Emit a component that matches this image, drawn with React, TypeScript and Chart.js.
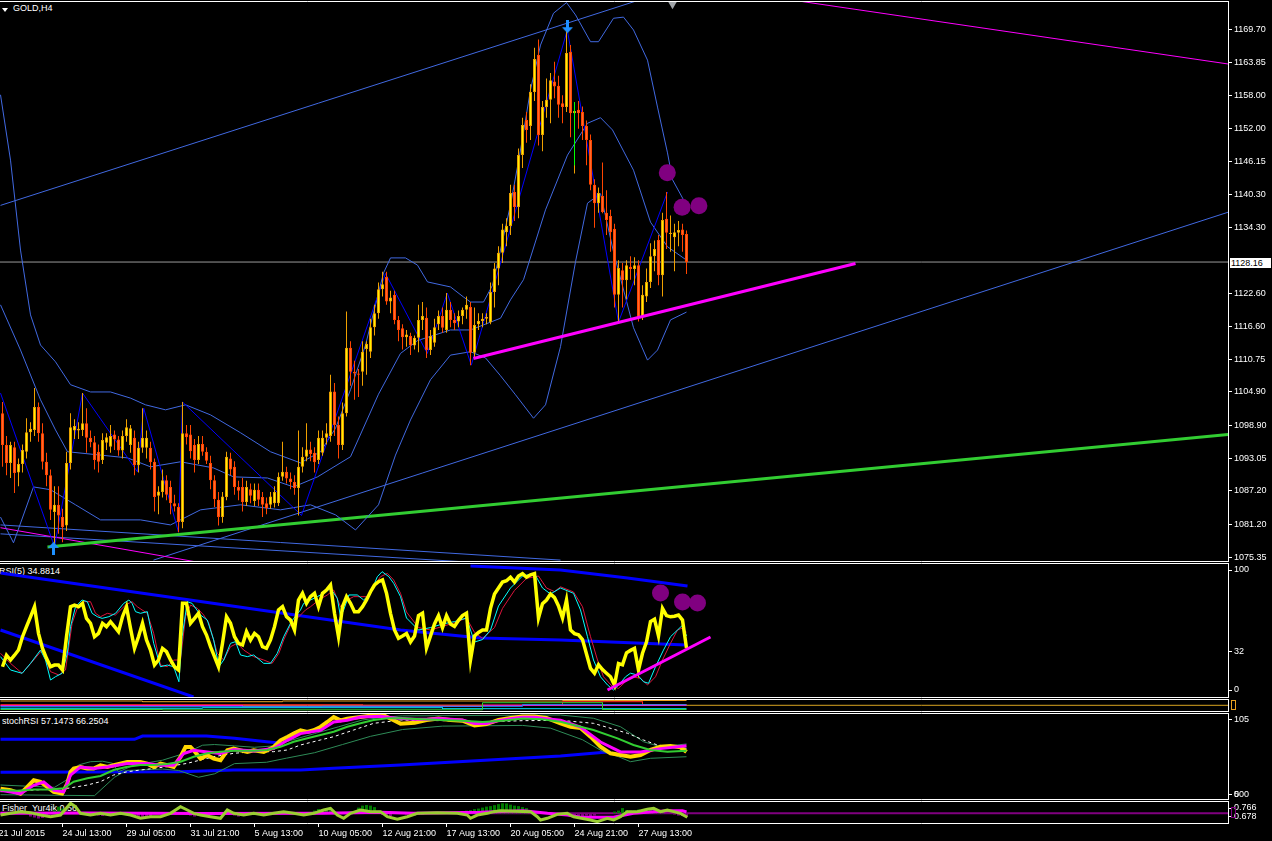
import React, { useEffect, useRef } from "react";
import { Chart, registerables } from "chart.js";
Chart.register(...registerables);

// ---------------- DATA ----------------
const OPEN = [
  1101.1, 1095.4, 1092.2, 1095.0, 1090.5, 1092.0, 1094.2, 1097.7, 1098.1, 1102.2,
  1097.5, 1092.4, 1090.0, 1083.4, 1084.7, 1082.5, 1081.0, 1092.2, 1098.0, 1098.0,
  1098.1, 1099.3, 1096.7, 1095.9, 1094.2, 1092.7, 1095.8, 1095.1, 1097.3, 1096.4,
  1094.4, 1097.0, 1095.4, 1096.7, 1091.8, 1094.9, 1094.9, 1094.9, 1092.4, 1086.3,
  1087.0, 1089.1, 1087.9, 1085.0, 1084.3, 1081.6, 1097.5, 1097.3, 1095.4, 1092.7,
  1095.6, 1094.2, 1092.2, 1089.1, 1085.6, 1082.5, 1086.1, 1093.0, 1091.5, 1087.9,
  1087.9, 1085.2, 1087.5, 1085.4, 1087.4, 1086.1, 1085.0, 1084.7, 1085.0, 1085.0,
  1089.7, 1090.6, 1089.4, 1088.8, 1087.7, 1091.5, 1093.3, 1094.6, 1094.0, 1092.7,
  1094.0, 1096.7, 1097.0, 1105.0, 1099.0, 1095.4, 1101.1, 1112.8, 1108.5, 1108.2,
  1108.5, 1112.6, 1112.1, 1116.5, 1119.0, 1123.3, 1125.5, 1121.1, 1122.3, 1117.8,
  1116.3, 1114.7, 1114.9, 1113.2, 1114.6, 1117.8, 1118.2, 1112.4, 1113.7, 1117.0,
  1118.5, 1116.0, 1119.6, 1117.8, 1117.5, 1118.5, 1119.6, 1120.1, 1111.9, 1117.0,
  1117.6, 1118.0, 1117.4, 1122.8, 1127.0, 1129.8, 1133.5, 1134.6, 1140.7, 1138.0,
  1147.3, 1153.6, 1152.5, 1158.6, 1165.2, 1150.9, 1155.9, 1157.2, 1160.5, 1159.7,
  1156.6, 1155.9, 1165.8, 1154.8, 1155.4, 1155.0, 1152.5, 1150.0, 1142.0, 1138.7,
  1140.0, 1137.0, 1136.4, 1134.1, 1122.3, 1126.7, 1124.9, 1127.3, 1126.9, 1127.6,
  1118.3, 1122.0, 1124.6, 1129.2, 1132.1, 1125.8, 1135.9, 1133.2, 1132.6, 1133.4,
  1134.0, 1133.2,
];
const HIGH = [
  1103.1, 1097.0, 1096.0, 1096.0, 1093.0, 1095.5, 1100.2, 1099.5, 1105.6, 1103.0,
  1099.3, 1094.0, 1091.0, 1088.0, 1088.0, 1084.0, 1094.2, 1101.1, 1100.0, 1099.5,
  1104.7, 1102.0, 1098.0, 1097.0, 1095.5, 1097.5, 1097.5, 1099.0, 1098.0, 1097.0,
  1098.0, 1100.0, 1099.0, 1098.0, 1096.0, 1102.0, 1098.0, 1096.0, 1093.0, 1088.0,
  1091.0, 1090.0, 1089.0, 1086.5, 1085.0, 1103.1, 1099.0, 1099.0, 1096.5, 1097.0,
  1097.0, 1095.0, 1093.5, 1090.0, 1087.0, 1087.0, 1094.2, 1094.0, 1092.5, 1089.0,
  1089.5, 1089.0, 1088.5, 1088.5, 1088.5, 1087.0, 1086.0, 1087.0, 1088.0, 1090.5,
  1096.0, 1091.5, 1090.5, 1090.0, 1098.0, 1095.0, 1099.3, 1096.0, 1095.0, 1098.0,
  1098.0, 1099.3, 1108.0, 1106.5, 1100.5, 1103.0, 1119.3, 1114.0, 1110.5, 1109.0,
  1114.0, 1114.0, 1118.0, 1120.5, 1124.5, 1126.4, 1126.4, 1123.0, 1123.0, 1118.5,
  1117.0, 1116.0, 1115.5, 1115.0, 1120.5, 1121.0, 1120.0, 1116.0, 1118.0, 1119.5,
  1120.0, 1122.6, 1121.0, 1119.0, 1119.5, 1120.0, 1122.0, 1121.0, 1120.0, 1119.0,
  1119.0, 1119.0, 1124.5, 1128.0, 1131.0, 1135.0, 1136.0, 1142.0, 1142.0, 1148.5,
  1154.0, 1155.0, 1160.0, 1166.5, 1168.0, 1157.0, 1161.0, 1162.0, 1164.0, 1161.5,
  1158.0, 1169.7, 1167.0, 1155.5, 1157.0, 1156.0, 1153.5, 1151.0, 1143.0, 1141.5,
  1146.0, 1141.0, 1137.5, 1135.0, 1128.5, 1128.0, 1128.5, 1129.2, 1129.0, 1128.5,
  1124.0, 1127.0, 1131.5, 1132.0, 1133.0, 1137.0, 1140.7, 1136.5, 1135.0, 1135.5,
  1135.0, 1133.8,
];
const LOW = [
  1091.5, 1090.0, 1089.5, 1086.8, 1088.0, 1090.5, 1093.0, 1096.0, 1097.0, 1096.0,
  1091.0, 1088.0, 1082.0, 1077.2, 1079.5, 1078.0, 1080.0, 1091.0, 1096.5, 1096.5,
  1097.0, 1094.0, 1095.0, 1091.0, 1090.5, 1092.0, 1094.5, 1094.0, 1094.5, 1093.5,
  1093.0, 1096.0, 1094.0, 1090.0, 1090.5, 1094.0, 1093.0, 1091.0, 1083.5, 1083.0,
  1086.0, 1085.5, 1083.0, 1083.5, 1079.8, 1080.5, 1095.5, 1093.0, 1090.5, 1092.0,
  1093.5, 1092.0, 1087.5, 1084.3, 1081.0, 1081.5, 1085.5, 1090.0, 1086.5, 1085.5,
  1083.5, 1084.5, 1085.0, 1084.5, 1084.5, 1082.5, 1083.0, 1084.0, 1084.2, 1084.5,
  1089.0, 1088.5, 1087.5, 1086.5, 1082.8, 1090.5, 1092.5, 1092.5, 1090.5, 1092.0,
  1093.5, 1095.5, 1096.0, 1097.0, 1093.0, 1094.5, 1100.5, 1106.0, 1103.5, 1104.0,
  1106.0, 1108.0, 1111.0, 1115.0, 1118.0, 1122.0, 1120.5, 1119.0, 1117.0, 1114.0,
  1112.5, 1113.0, 1111.5, 1112.5, 1112.0, 1116.0, 1111.0, 1111.5, 1113.0, 1116.0,
  1115.5, 1115.5, 1116.5, 1116.0, 1116.5, 1117.0, 1118.0, 1109.7, 1111.0, 1116.0,
  1116.5, 1117.0, 1117.0, 1120.0, 1124.0, 1128.0, 1131.0, 1133.0, 1135.5, 1136.0,
  1145.0, 1149.5, 1150.0, 1157.0, 1149.0, 1148.0, 1154.0, 1153.0, 1157.5, 1154.0,
  1153.0, 1155.0, 1150.5, 1144.0, 1152.0, 1150.0, 1145.5, 1141.0, 1134.3, 1137.0,
  1136.9, 1133.0, 1130.0, 1120.0, 1117.4, 1120.0, 1121.5, 1125.0, 1124.0, 1117.5,
  1117.8, 1121.0, 1123.5, 1126.5, 1124.0, 1122.0, 1130.5, 1130.0, 1126.5, 1131.0,
  1130.0, 1126.0,
];
const CLOSE = [
  1095.4, 1092.2, 1095.4, 1090.4, 1092.0, 1094.5, 1097.7, 1098.3, 1102.2, 1097.5,
  1092.4, 1090.0, 1083.8, 1084.7, 1082.8, 1080.7, 1092.2, 1098.6, 1098.8, 1098.3,
  1099.3, 1096.7, 1095.9, 1092.7, 1092.4, 1096.3, 1096.8, 1097.0, 1096.4, 1094.4,
  1097.0, 1098.6, 1098.4, 1091.8, 1094.9, 1096.7, 1096.7, 1092.3, 1086.1, 1087.1,
  1089.1, 1086.5, 1085.0, 1084.4, 1081.6, 1097.5, 1096.8, 1094.3, 1092.7, 1095.6,
  1094.2, 1092.6, 1089.1, 1085.7, 1082.5, 1086.2, 1093.3, 1091.0, 1087.9, 1087.2,
  1085.2, 1087.9, 1086.3, 1087.4, 1085.6, 1084.7, 1084.1, 1086.2, 1087.0, 1089.7,
  1090.6, 1089.4, 1088.8, 1087.7, 1091.5, 1093.3, 1094.6, 1093.8, 1092.3, 1096.7,
  1096.7, 1097.5, 1105.0, 1099.0, 1095.4, 1101.1, 1112.8, 1108.5, 1108.2, 1108.0,
  1112.1, 1113.5, 1116.5, 1119.0, 1123.3, 1124.2, 1121.1, 1121.8, 1117.8, 1116.0,
  1114.7, 1115.2, 1113.2, 1114.6, 1117.8, 1118.5, 1112.4, 1114.9, 1116.5, 1118.5,
  1116.4, 1119.6, 1117.8, 1117.2, 1118.5, 1119.6, 1120.5, 1111.9, 1116.9, 1117.6,
  1118.0, 1118.3, 1122.8, 1127.0, 1129.8, 1134.0, 1134.6, 1140.5, 1138.0, 1147.3,
  1152.7, 1151.8, 1158.6, 1164.5, 1150.9, 1155.9, 1157.2, 1160.7, 1159.6, 1156.3,
  1155.9, 1165.6, 1154.8, 1155.2, 1154.8, 1152.5, 1150.0, 1142.0, 1138.7, 1140.5,
  1137.1, 1135.7, 1133.5, 1122.3, 1127.1, 1124.9, 1127.6, 1126.9, 1127.6, 1118.3,
  1122.3, 1124.6, 1129.2, 1130.5, 1125.8, 1135.7, 1133.4, 1133.4, 1133.5, 1133.9,
  1133.0, 1128.16,
];

// Bollinger bands: [bar, price]
const BB_UPPER = [
  [-0.5, 1158.1], [2, 1146.4], [4.5, 1130.3], [7, 1118.7], [9.5, 1113.3], [13.25, 1110.3],
  [17, 1106.2], [22, 1104.9], [27, 1104.9], [32, 1103.8], [35.75, 1102.6], [40.75, 1101.7],
  [45.75, 1102.6], [52, 1100.8], [59.5, 1097.6], [67, 1094.2], [74.5, 1092.2], [79.5, 1094.2],
  [83.25, 1098.4], [87, 1105.3], [90.75, 1113.3], [93.25, 1120.5], [95.25, 1126.2], [97, 1128.9],
  [100.75, 1128.9], [103.75, 1127.6], [106.25, 1124.6], [112, 1123.7], [115.25, 1121.9],
  [117, 1121.0], [120.25, 1121.0], [122.5, 1124.0], [124.5, 1130.3], [127, 1138.4],
  [129.5, 1148.2], [132, 1159.0], [134.5, 1167.0], [137.75, 1172.7], [141, 1174.6],
  [143.25, 1172.4], [147, 1167.6], [149, 1167.6], [152.75, 1171.8], [155.25, 1172.0],
  [157.75, 1169.7], [161.25, 1164.3], [163.75, 1155.9], [166.25, 1147.7], [167.5, 1142.9],
  [170.25, 1139.3], [171, 1138.0],
];
const BB_MIDDLE = [
  [-0.5, 1120.5], [4.5, 1112.4], [9.5, 1103.5], [13.25, 1098.1], [16.25, 1094.2], [24.5, 1093.6],
  [31.25, 1093.1], [37, 1091.5], [44.5, 1092.4], [52.75, 1091.3], [57.75, 1089.7], [66.25, 1089.5],
  [72.75, 1087.9], [78.75, 1089.7], [87, 1093.3], [94, 1104.5], [99.5, 1111.8], [103.75, 1114.1],
  [112, 1116.0], [117, 1116.0], [124.5, 1118.1], [127, 1121.4], [130.25, 1125.0], [135.75, 1137.5],
  [141.25, 1147.3], [146.25, 1153.0], [149.5, 1154.0], [152.5, 1151.8], [157.75, 1144.6],
  [162, 1135.3], [166.25, 1130.9], [171, 1128.5],
];
const BB_LOWER = [
  [-0.5, 1082.5], [2.75, 1077.9], [7.75, 1087.9], [12, 1087.4], [18.25, 1084.7], [24.5, 1082.0],
  [34.5, 1082.0], [42, 1081.1], [49.5, 1083.8], [59.5, 1084.7], [69.5, 1083.8], [77, 1084.7],
  [83.25, 1082.9], [88.25, 1080.2], [94, 1084.7], [98.25, 1093.6], [102, 1099.9], [107, 1107.1],
  [112, 1111.5], [117, 1112.1], [120.75, 1111.0], [124.5, 1107.8], [128.25, 1104.4],
  [132.75, 1100.2], [135.75, 1102.6], [139.5, 1113.0], [143.25, 1128.2], [146.25, 1138.7],
  [149.5, 1140.4], [152.75, 1130.0], [157.75, 1116.4], [161.25, 1110.6], [163.75, 1112.4],
  [167, 1117.8], [171, 1119.2],
];
const ZIGZAG = [
  [-0.5, 1104.7], [13, 1077.2], [20, 1104.7], [33.75, 1090.6], [35.3, 1102.0], [44, 1079.8],
  [45, 1103.1], [74.75, 1082.8], [95.75, 1126.1], [106.2, 1111.8], [111.2, 1122.6],
  [117.2, 1109.7], [141.2, 1169.7], [154, 1117.4], [166.25, 1140.7],
];
const CHANNEL_TOP = [[-0.5, 1138.3], [161.5, 1175.6]];
const CHANNEL_LOW = [[37.75, 1074.8], [306.5, 1137.1]];
const BLUE_LOW_A = [[-0.5, 1081.1], [139.5, 1074.8]];
const BLUE_LOW_B = [[-0.5, 1079.5], [124.5, 1074.1]];
const MAGENTA_LOW = [[-0.5, 1080.6], [48.25, 1074.5]];
const MAGENTA_TOP = [[197, 1175.1], [306.5, 1163.6]];
const MAGENTA_SUPPORT = [[117.75, 1110.9], [213.25, 1127.9]];
const GREEN_LINE = [[11.25, 1077.15], [306.5, 1097.3]];
const LAST_PRICE = 1128.16;
const GREEN_MARK = [[143, 1156.8], [143, 1145.5]];
const MAIN_CIRCLES = [[166.2, 1144.15], [169.9, 1137.95], [174.1, 1138.25]];
const DOWN_ARROW = [[141.25, 1170.2]];
const UP_ARROW = [[12.75, 1077.0]];
const GRAY_MARK = [[167.5, 1174.3]];

// RSI(5)
const RSI = [
  19.4, 29, 25, 29, 33.3, 44.4, 52.8, 61, 69.4, 47.2,
  34.7, 26.4, 19.4, 20.8, 20.8, 16.7, 44.4, 69.4, 70.8, 69.4,
  72.2, 59.7, 55.6, 44.4, 47.2, 55.6, 52.8, 56.9, 52.8, 48.6,
  61.1, 69.4, 51.4, 34.7, 44.4, 55.6, 41.7, 33.3, 20.8, 25,
  34.7, 31.9, 25, 19.4, 16.7, 72.2, 72.2, 55.6, 59.7, 63.9,
  52.8, 45.8, 36.1, 27.8, 19.4, 38.9, 61.1, 55.6, 44.4, 38.9,
  37.5, 48.6, 41.7, 47.2, 44.4, 36.1, 34.7, 41.7, 52.8, 66.7,
  69.4, 61.1, 58.3, 50, 75, 80.6, 72.2, 77.8, 80.6, 69.4,
  80.6, 83.3, 87.5, 63.9, 44.4, 69.4, 77.8, 72.2, 65.3, 65.3,
  69.4, 75, 81.9, 87.5, 90.3, 91.7, 80.6, 63.9, 50, 43.1,
  45, 47, 40, 45, 62, 64, 35, 45, 55, 62,
  52, 62, 55, 53, 58, 62, 64, 25, 45, 48,
  50, 50, 68, 80, 85, 90, 91, 94, 90, 95,
  97, 94, 96, 97, 60, 72, 75, 80, 77, 70,
  60, 75, 50, 47, 46, 42, 30, 18, 14, 21,
  17, 14, 11, 4, 22, 21, 31, 33, 34.7, 16.7,
  30.6, 40, 57, 59, 45, 68, 62, 61, 61.5, 62.5,
  58.3, 34.9,
];
const RSI_CYAN = [
  [-0.5, 27.8], [2, 16.7], [4.9, 13.9], [7, 22.2], [9.5, 33.3], [10.75, 25], [12, 8.3], [13.25, 11.1],
  [14.9, 13.9], [16.2, 30.6], [17, 52.8], [18.25, 69.4], [19.9, 75], [21.2, 73.6], [22.4, 63.9],
  [23.7, 61.1], [24.9, 59.7], [26.6, 61.1], [28.25, 63.9], [30.3, 72.2], [31.6, 75], [32.4, 72.2],
  [33.25, 65.3], [34.5, 63.9], [36.2, 65.3], [37.8, 38.9], [39.5, 19.4], [41.2, 20.8], [42.8, 19.4],
  [44.1, 6.9], [44.9, 44.4], [46.2, 73.6], [47.4, 72.2], [49.5, 62.5], [51.2, 58.3], [52.8, 41.7],
  [54.1, 19.4], [55.3, 25], [57, 38.9], [58.25, 40.3], [59.5, 29.2], [61.2, 27.8], [62.8, 29.2],
  [65.3, 22.2], [67, 22.2], [68.7, 30.6], [70.3, 44.4], [72, 55.6], [72.8, 59.7], [74.5, 66.7],
  [75.3, 72.2], [77, 75], [78.7, 77.8], [80.3, 80.6], [82, 84.7], [83.7, 76.4], [84.5, 61.1],
  [85.3, 66.7], [86.6, 79.2], [88.7, 79.2], [90.3, 75], [92, 80.6], [93.7, 94.4], [94.9, 98.6],
  [96.6, 94.4], [97.8, 88.9], [99.5, 77.8], [101, 60], [104, 50], [107, 52], [110, 55], [113, 57],
  [116, 60], [118, 40], [120, 42], [122, 50], [124, 70], [127, 85], [130, 95], [133, 97], [135, 85],
  [137, 80], [139.5, 85], [142.75, 80.6], [144.5, 66.7], [146.25, 44.4], [147.75, 25], [149.5, 11],
  [151.25, 4.2], [152.75, 0], [154, 4], [155.75, 11], [157, 14], [158.75, 12.5], [160.25, 6.9],
  [161.5, 5.6], [163.25, 19.4], [165.25, 33.3], [167, 44.4], [168.75, 50], [170, 54], [171, 45],
];
const RSI_RED = [
  [-0.5, 30.6], [2, 22.2], [4.9, 13.9], [7.8, 25], [9.9, 33.3], [12, 15.3], [14.1, 12.5], [15.75, 16.7],
  [17.4, 55.6], [18.7, 68.1], [20.3, 73.6], [22, 73.6], [23.25, 63.9], [24.5, 61.1], [26.2, 63.9],
  [28.25, 62.5], [30.75, 70.8], [32.4, 73.6], [33.7, 69.4], [34.9, 66.7], [36.2, 63.9], [37.8, 47.2],
  [39.5, 20.8], [41.2, 19.4], [42.8, 25], [44.5, 25], [45.75, 61.1], [47, 70.8], [48.7, 68.1],
  [50.3, 62.5], [51.6, 55.6], [53.7, 30.6], [55.3, 25], [57, 36.1], [58.7, 38.9], [60.3, 33.3],
  [62.8, 27.8], [65.3, 25], [67.4, 22.2], [69.1, 30.6], [70.3, 41.7], [72, 54.2], [74.1, 61.1],
  [75.75, 66.7], [77, 69.4], [79.1, 75], [81.2, 79.2], [82.8, 83.3], [84.5, 69.4], [86.2, 75],
  [87.8, 77.8], [89.5, 77.8], [91.2, 77.8], [92.8, 86.1], [94.5, 94.4], [96.2, 97.2], [97.8, 91.7],
  [99.5, 80.6], [101, 65], [104, 52], [107, 50], [110, 53], [113, 56], [116, 60], [118, 48], [120, 43],
  [123, 52], [125, 68], [128, 83], [131, 93], [134, 95], [136, 85], [138, 82], [139.5, 86],
  [142.75, 81.7], [145, 69.4], [147, 44.4], [148.75, 25], [150.25, 11], [152.5, 2.8], [154, 1.4],
  [155.75, 6.9], [157.5, 11], [159.5, 9.7], [161.25, 4.2], [163.25, 11], [165, 25], [167, 38.9],
  [168.75, 50], [170, 51.7], [171, 48],
];
const RSI_BLUE_A = [[-0.5, 97.5], [99.5, 50], [119.5, 43.3], [139.5, 41.7], [171, 37.5]];
const RSI_BLUE_B = [[-0.5, 50], [47.75, -5.8]];
const RSI_BLUE_C = [[117, 103.3], [139.5, 100], [156.25, 93.3], [171.25, 86.7]];
const RSI_MAGENTA = [[151.25, 0], [177, 44.2]];
const RSI_CIRCLES = [[164.5, 80.8], [170, 73.3], [173.75, 72.5]];

// thin multi-line panel
const THIN_GOLD = [[-0.5, 10], [35, 10], [35, 9.3], [70, 9.3], [70, 10], [140, 10], [140, 10.5], [171, 10.5]];
const THIN_ORANGE = [[-0.5, 5.7], [306.5, 5.7]];
const THIN_MAGENTA = [[-0.5, 5.3], [60, 5.3], [60, 4.7], [120, 4.7], [120, 5.7], [171, 5.7]];
const THIN_RED = [[-0.5, 6.3], [90, 6.3], [90, 5.8], [140, 5.8], [140, 9.3], [160, 9.3], [160, 6.5], [171, 6.5]];
const THIN_BLUE = [[-0.5, 4.3], [80, 4.3], [80, 4.7], [130, 4.7], [130, 6.3], [171, 6.3]];
const THIN_CYAN = [[-0.5, 2.7], [50, 2.7], [50, 3.3], [110, 3.3], [110, 2.3], [171, 2.3]];
const THIN_GREEN = [[-0.5, 1.5], [40, 1.5], [40, 1.2], [120, 1.2], [120, 8.3], [150, 8.3], [150, 1.5], [171, 1.5]];

// stochRSI
const ST_YELLOW = [
  [-0.5, 3.3], [2, 0.9], [4.5, -4], [6.2, 5.8], [7.8, 15.5], [9.5, 13.1], [11.2, 5.8], [12.8, -1.5],
  [14.9, -4], [16.2, 10.7], [17, 27.8], [17.8, 32.7], [19.5, 35.1], [21.2, 32.7], [22.8, 32.7],
  [24.5, 37.6], [26.2, 35.1], [27.8, 37.6], [31.2, 42.4], [34.5, 42.4], [36.2, 40], [37.8, 35.1],
  [39.5, 40], [41.2, 37.6], [42.8, 35.1], [44.5, 49.8], [45.75, 64.4], [47, 64.4], [47.8, 59.5],
  [49.5, 47.3], [51.2, 52.2], [52.8, 47.3], [54.5, 44.9], [56.2, 59.5], [57.8, 62], [59.5, 59.5],
  [61.2, 57.1], [62.8, 59.5], [65.3, 57.1], [67.8, 64.4], [69.5, 74.2], [71.2, 79.1], [72.8, 84],
  [74.5, 88.9], [76.2, 86.4], [77.8, 88.9], [79.5, 93.8], [81.2, 101.1], [82.8, 108.4], [84.5, 103.5],
  [86.2, 106], [89.5, 108.4], [92.8, 110.9], [95.3, 110.9], [97.8, 103.5], [99.5, 98.6], [103, 100],
  [106, 104], [109, 106], [112, 104], [115, 103], [118, 96], [121, 98], [124, 104], [127, 107],
  [130, 109], [133, 109], [136, 107], [139.5, 99.1], [142, 94.1], [144.5, 92.2], [147, 79.5],
  [149.5, 64.8], [152, 55.1], [154.5, 52.6], [157, 50.1], [159.5, 52.6], [162, 60], [164.5, 64.8],
  [167, 65.8], [169.5, 63.9], [171, 57.1],
];
const ST_MAGENTA = [
  [-0.5, 0.9], [4.5, -4], [7.8, 8.2], [10.3, 13.1], [12.8, 0.9], [15.3, -1.5], [17, 23], [19.5, 35.1],
  [22.8, 32.7], [26.2, 35.1], [31.2, 40], [36.2, 40], [39.5, 37.6], [42.8, 37.6], [45.3, 54.7],
  [47.8, 59.5], [51.2, 57.1], [54.5, 54.7], [57.8, 60.5], [62.8, 58.6], [67.8, 62], [71.2, 74.2],
  [74.5, 84], [79.5, 88.9], [82.8, 101.1], [86.2, 103.5], [89.5, 108.4], [94.5, 109.4], [99.5, 106],
  [103, 105], [106, 105], [109, 106], [112, 105], [115, 104], [118, 99], [121, 99], [124, 103],
  [127, 106], [130, 108], [133, 108], [136, 106], [139.5, 103.5], [144.5, 93.7], [149.5, 71.7],
  [154.5, 57.1], [159.5, 57.1], [164.5, 62], [171, 66.25],
];
const ST_GREEN = [
  [-0.5, 1.3], [3.7, 0.3], [7.8, 2.2], [12, 2.2], [15.3, 3.7], [17.8, 13.5], [21.2, 18.5], [24.5, 21.8],
  [27.8, 30.6], [31.2, 35.5], [34.5, 38], [37.8, 38], [41.2, 39.4], [44.5, 42.8], [47.8, 50.1],
  [51.2, 55.1], [54.5, 57.5], [57.8, 59], [62.8, 59], [66.2, 60], [69.5, 64.8], [72.8, 72.1],
  [76.2, 77.1], [79.5, 82], [82.8, 86.8], [86.2, 94.1], [89.5, 99.1], [92.8, 104], [96.2, 106.5],
  [99.5, 106.5], [105, 105], [110, 104], [115, 103], [120, 101], [125, 103], [130, 106], [135, 105],
  [139.5, 101.5], [147.75, 89.3], [153.75, 77.1], [157.75, 67.3], [162, 60], [166.25, 57.5], [171, 59],
];
const ST_WHITE = [
  [-0.5, -1.2], [7.8, 1.3], [16.2, 3.7], [21.2, 8.6], [24.5, 13.5], [27.8, 23.3], [31.2, 28.1],
  [34.5, 30.6], [41.2, 35.5], [46.2, 40.4], [49.5, 45.3], [52.8, 50.1], [57.8, 55.1], [62.8, 57.5],
  [67.8, 57.5], [71.2, 60], [74.5, 67.3], [79.5, 74.7], [82.8, 79.5], [87.8, 89.3], [92.8, 99.1],
  [96.2, 101.5], [99.5, 104], [110, 103], [120, 101], [130, 103], [139.5, 103.5], [147.75, 99.1],
  [156.25, 84.5], [160.25, 74.6], [163.75, 67.3], [167, 64.8], [171, 62.5],
];
const ST_BAND_UP = [
  [-0.5, 8.6], [13, 5.2], [16, 16], [19, 38], [22, 42.8], [25, 43.5], [27.5, 40.5], [29, 28], [33, 38],
  [40, 45], [46, 56], [50, 67], [53, 68], [58, 66], [63, 64], [68, 66], [72, 74], [78, 84], [84, 94],
  [90, 104], [95, 108], [100, 110], [139.5, 111.3], [147.75, 106.5], [154.5, 94.1], [160.25, 72.1],
  [164.5, 64.8], [171, 68.8],
];
const ST_BAND_LOW = [
  [-0.5, -5.6], [23, -7], [28, 20], [31, 30], [40, 32], [44, 30], [49, 20], [53, 25], [58, 40],
  [66, 42], [71, 48], [78, 56], [85, 68], [92, 80], [100, 90], [110, 95], [130, 96], [137, 92],
  [145, 75], [150, 58], [154, 50.1], [157, 42.8], [162, 47.8], [171, 50.1],
];
const ST_BLUE_TOP = [[-0.5, 75.7], [33, 75.7], [35, 80.5], [51, 80.5], [58, 77.1], [66, 72.1], [70, 70]];
const ST_BLUE_LOW = [[-0.5, 27.3], [44.5, 28.1], [57.75, 30.6], [74.5, 30.6], [82.75, 33.1], [99.5, 38], [139.5, 51.2], [152, 57.5]];

// Fisher
const FI_MAGENTA = [
  [-0.5, 0.712], [20, 0.716], [50, 0.71], [80, 0.714], [94.5, 0.722], [102.75, 0.712], [119.5, 0.722],
  [130.25, 0.739], [136.25, 0.712], [141.25, 0.695], [144.5, 0.672], [152.75, 0.672], [157.75, 0.712],
  [166.25, 0.739], [170, 0.739], [171, 0.726],
];
const FI_LINE = [
  [-0.5, 0.695], [2, 0.712], [4.5, 0.729], [7, 0.719], [9.5, 0.695], [12, 0.678], [14.5, 0.695],
  [17, 0.814], [18.25, 0.779], [19.5, 0.712], [22, 0.695], [24.5, 0.712], [27, 0.695], [29.5, 0.712],
  [32, 0.695], [34.5, 0.662], [37, 0.678], [39.5, 0.678], [42, 0.712], [44.5, 0.779], [46.2, 0.746],
  [47.8, 0.712], [49.5, 0.695], [52, 0.678], [54.5, 0.662], [56.2, 0.746], [57.8, 0.712], [60.3, 0.695],
  [62.8, 0.712], [65.3, 0.695], [67.8, 0.712], [70.3, 0.729], [72.8, 0.712], [75.3, 0.695],
  [77.8, 0.712], [80.3, 0.746], [82, 0.763], [83.7, 0.695], [85.3, 0.662], [87, 0.712], [89.5, 0.746],
  [92, 0.729], [94.5, 0.729], [96.2, 0.678], [98.7, 0.652], [101.2, 0.678], [103.7, 0.712],
  [108.7, 0.719], [113.7, 0.712], [116.2, 0.695], [117, 0.662], [118.7, 0.695], [121.2, 0.712],
  [122.8, 0.729], [124.5, 0.739], [132, 0.729], [133.7, 0.678], [134.5, 0.645], [136.2, 0.662],
  [138.7, 0.702], [141.2, 0.712], [142.8, 0.678], [147, 0.645], [148.7, 0.628], [151.2, 0.662],
  [152.8, 0.645], [154.5, 0.678], [156.2, 0.729], [158.7, 0.729], [161.2, 0.753], [162.8, 0.763],
  [164.5, 0.729], [166.2, 0.746], [167.8, 0.729], [169.5, 0.712], [171.2, 0.672],
];
const FI_BASE = 0.712;
const FI_HIST_UP = [
  [13, 0.745], [14, 0.779], [15, 0.76], [78, 0.74], [79, 0.756], [80, 0.756], [81, 0.75], [82, 0.745],
  [89, 0.77], [90, 0.79], [91, 0.796], [92, 0.79], [93, 0.775], [113, 0.72], [114, 0.725],
  [115, 0.735], [116, 0.74], [117, 0.745], [118, 0.755], [119, 0.76], [120, 0.77], [121, 0.78],
  [122, 0.785], [123, 0.795], [124, 0.805], [125, 0.814], [126, 0.812], [127, 0.8], [128, 0.79],
  [129, 0.785], [130, 0.775], [131, 0.765], [153, 0.73], [154, 0.74], [155, 0.765], [156, 0.745],
  [157, 0.74], [158, 0.74], [159, 0.75], [160, 0.73], [161, 0.745], [162, 0.765], [163, 0.75],
  [164, 0.735], [165, 0.725],
];
const FI_HIST_DOWN = [
  [7, 0.68], [8, 0.67], [9, 0.66], [10, 0.665], [11, 0.675], [24, 0.69], [25, 0.685], [34, 0.675],
  [35, 0.66], [36, 0.67], [37, 0.68], [47, 0.69], [48, 0.68], [49, 0.685], [58, 0.69], [59, 0.68],
  [95, 0.695], [96, 0.69], [97, 0.685], [101, 0.7], [102, 0.695], [103, 0.69], [104, 0.695],
  [105, 0.7], [138, 0.7], [139, 0.695], [140, 0.69], [141, 0.695], [142, 0.69], [143, 0.685],
  [144, 0.68], [145, 0.685], [146, 0.69], [147, 0.68], [148, 0.69], [168, 0.7], [169, 0.69],
  [170, 0.685], [171, 0.68],
];

// axis ticks
const MAIN_TICKS = [1169.7, 1163.85, 1158.0, 1152.0, 1146.15, 1140.3, 1134.3, 1122.6, 1116.6, 1110.75, 1104.9, 1098.9, 1093.05, 1087.2, 1081.2, 1075.35];
const RSI_TICKS = [100, 32, 0];
const ST_TICKS = [105, -5, -5];
const ST_TICK_LABELS = ["105", "500", "0"];
const FI_TICKS = [0.766, 0.678];
const X_TICKS = [-1, 15, 31, 47, 63, 79, 95, 111, 127, 143, 159];
const X_LABELS = ["21 Jul 2015", "24 Jul 13:00", "29 Jul 05:00", "31 Jul 21:00", "5 Aug 13:00", "10 Aug 05:00", "12 Aug 21:00", "17 Aug 13:00", "20 Aug 05:00", "24 Aug 21:00", "27 Aug 13:00"];

// ---------------- LAYOUT ----------------
const W = 1272;
const H = 841;
const AXIS_W = 44;
const X_MIN = -0.625;
const X_MAX = X_MIN + 1228 / 4;
const FONT = "'Liberation Sans', Arial, sans-serif";
const MAIN_P = { top: 2, bottom: 561, min: 1074.64, max: 1174.71 };
const RSI_P = { top: 564, bottom: 697, min: -5.83, max: 105 };
const THIN_P = { top: 700, bottom: 711, min: 0, max: 11 };
const ST_P = { top: 714, bottom: 799, min: -11.9, max: 112.77 };
const FI_P = { top: 802, bottom: 823, min: 0.6144, max: 0.8267 };
const X_AXIS_H = 18;

const pts = (a: number[][]) => a.map(([x, y]) => ({ x, y }));

const framePlugin = {
  id: "frame",
  afterDraw(chart: any) {
    const { ctx, chartArea: a } = chart;
    ctx.save();
    ctx.strokeStyle = "#ffffff";
    ctx.lineWidth = 1;
    ctx.beginPath();
    ctx.moveTo(0, a.top - 0.5);
    ctx.lineTo(a.right + 1, a.top - 0.5);
    ctx.moveTo(0, a.bottom + 0.5);
    ctx.lineTo(a.right + 1, a.bottom + 0.5);
    ctx.stroke();
    ctx.restore();
  },
};

function lineDs(data: any[], color: string, width: number, order: number, extra: any = {}) {
  return { type: "line", data, borderColor: color, borderWidth: width, pointRadius: 0, fill: false, tension: 0, order, ...extra };
}
function dotDs(data: any[], color: string, radius: number, order: number, extra: any = {}) {
  return { type: "line", data, showLine: false, pointRadius: radius, pointBackgroundColor: color, pointBorderWidth: 0, order, clip: false, ...extra };
}

function yAxis(p: any, ticks: number[], labels?: string[]) {
  return {
    position: "right",
    min: p.min,
    max: p.max,
    afterBuildTicks: (s: any) => {
      s.ticks = ticks.map((v) => ({ value: v }));
    },
    afterFit: (s: any) => {
      s.width = AXIS_W;
      s.paddingTop = 0;
      s.paddingBottom = 0;
    },
    ticks: {
      color: "#ffffff",
      autoSkip: false,
      padding: 2,
      font: { family: FONT, size: 9 },
      callback: (v: number, i: number) => (labels ? labels[i] : v.toFixed(2)),
    },
    grid: { drawOnChartArea: false, drawTicks: true, tickLength: 4, color: "#ffffff" },
    border: { display: true, color: "#ffffff" },
  };
}
const xHidden = { type: "linear", min: X_MIN, max: X_MAX, display: false, offset: false, grid: { offset: false } };
const xShown = {
  type: "linear",
  min: X_MIN,
  max: X_MAX,
  offset: false,
  afterBuildTicks: (s: any) => {
    s.ticks = X_TICKS.map((v) => ({ value: v }));
  },
  afterFit: (s: any) => {
    s.height = X_AXIS_H;
    s.paddingLeft = 0;
    s.paddingRight = 0;
  },
  ticks: { color: "#ffffff", autoSkip: false, maxRotation: 0, align: "start", padding: 1, font: { family: FONT, size: 9 }, callback: (_v: number, i: number) => X_LABELS[i] },
  grid: { offset: false, drawOnChartArea: false, drawTicks: true, tickLength: 4, color: "#ffffff" },
  border: { display: false },
};

function options(p: any, y: any, x: any = xHidden, bottomExtra = 0) {
  return {
    animation: false,
    responsive: false,
    maintainAspectRatio: false,
    devicePixelRatio: 1,
    events: [],
    layout: { autoPadding: false, padding: { top: p.top, bottom: H - p.bottom - bottomExtra, left: 0, right: 0 } },
    plugins: { legend: { display: false }, tooltip: { enabled: false }, title: { display: false } },
    scales: { x, y },
  };
}

function arrowCanvas(up: boolean) {
  const c = document.createElement("canvas");
  c.width = 11;
  c.height = 14;
  const g = c.getContext("2d") as CanvasRenderingContext2D;
  g.fillStyle = "#1E90FF";
  g.beginPath();
  if (up) {
    g.fillRect(4, 6, 3, 8);
    g.moveTo(0, 7);
    g.lineTo(11, 7);
    g.lineTo(5.5, 1);
  } else {
    g.fillRect(4, 0, 3, 8);
    g.moveTo(0, 7);
    g.lineTo(11, 7);
    g.lineTo(5.5, 13);
  }
  g.closePath();
  g.fill();
  return c;
}

function mainConfig(): any {
  const idx = CLOSE.map((_, i) => i);
  const bull = idx.filter((i) => CLOSE[i] >= OPEN[i]);
  const bear = idx.filter((i) => CLOSE[i] < OPEN[i]);
  const wick = (l: number[]) => l.map((i) => ({ x: i, y: [LOW[i], HIGH[i]] }));
  const body = (l: number[]) => l.map((i) => ({ x: i, y: [OPEN[i], CLOSE[i]] }));
  const barBase = { type: "bar", grouped: false, borderSkipped: false, inflateAmount: 0 };
  return {
    type: "bar",
    data: {
      datasets: [
        lineDs(pts([[-0.625, LAST_PRICE], [306.5, LAST_PRICE]]), "#9A9A9A", 1, 100),
        lineDs(pts(CHANNEL_TOP), "#4169E1", 1, 95),
        lineDs(pts(CHANNEL_LOW), "#4169E1", 1, 95),
        lineDs(pts(BLUE_LOW_A), "#4169E1", 1, 95),
        lineDs(pts(BLUE_LOW_B), "#4169E1", 1, 95),
        lineDs(pts(MAGENTA_LOW), "#FF00FF", 1, 94),
        lineDs(pts(MAGENTA_TOP), "#FF00FF", 1, 94),
        lineDs(pts(GREEN_LINE), "#32CD32", 3, 93),
        lineDs(pts(BB_UPPER), "#4169E1", 1, 90),
        lineDs(pts(BB_MIDDLE), "#4169E1", 1, 90),
        lineDs(pts(BB_LOWER), "#4169E1", 1, 90),
        lineDs(pts(ZIGZAG), "#0000FF", 1, 85),
        { ...barBase, data: wick(bull), backgroundColor: "#F0A000", borderWidth: 0, barThickness: 1, order: 70 },
        { ...barBase, data: wick(bear), backgroundColor: "#FF4500", borderWidth: 0, barThickness: 1, order: 70 },
        { ...barBase, data: body(bull), backgroundColor: "#FFF200", borderColor: "#E8A000", borderWidth: 1, barThickness: 3, order: 60 },
        { ...barBase, data: body(bear), backgroundColor: "#FF6A2B", borderColor: "#FF4500", borderWidth: 1, barThickness: 3, order: 60 },
        lineDs(pts(GREEN_MARK), "#00FF00", 1, 55),
        lineDs(pts(MAGENTA_SUPPORT), "#FF00FF", 3, 50),
        dotDs(pts(MAIN_CIRCLES), "#800080", 8.5, 20),
        dotDs(pts(DOWN_ARROW), "#1E90FF", 6, 10, { pointStyle: arrowCanvas(false) }),
        dotDs(pts(UP_ARROW), "#1E90FF", 6, 10, { pointStyle: arrowCanvas(true) }),
        dotDs(pts(GRAY_MARK), "#A0A4A8", 5, 10, { pointStyle: "triangle", rotation: 180 }),
      ],
    },
    options: options(MAIN_P, yAxis(MAIN_P, MAIN_TICKS)),
    plugins: [framePlugin],
  };
}

function rsiConfig(): any {
  return {
    type: "line",
    data: {
      datasets: [
        lineDs(pts(RSI_BLUE_A), "#0000FF", 3, 50),
        lineDs(pts(RSI_BLUE_B), "#0000FF", 3, 50),
        lineDs(pts(RSI_BLUE_C), "#0000FF", 3, 50),
        lineDs(pts(RSI_RED), "#DC143C", 1, 40),
        lineDs(pts(RSI_CYAN), "#00FFFF", 1, 39),
        lineDs(RSI.map((y, x) => ({ x, y })), "#FFFF00", 3.5, 30),
        lineDs(pts(RSI_MAGENTA), "#FF00FF", 3, 20),
        dotDs(pts(RSI_CIRCLES), "#800080", 8.5, 10),
      ],
    },
    options: options(RSI_P, yAxis(RSI_P, RSI_TICKS, RSI_TICKS.map(String))),
    plugins: [framePlugin],
  };
}

function thinConfig(): any {
  return {
    type: "line",
    data: {
      datasets: [
        lineDs(pts(THIN_ORANGE), "#DAA520", 1, 60),
        lineDs(pts(THIN_GOLD), "#E8A020", 1, 50),
        lineDs(pts(THIN_RED), "#FF2020", 1, 49),
        lineDs(pts(THIN_MAGENTA), "#FF00FF", 1, 48),
        lineDs(pts(THIN_BLUE), "#1E90FF", 1, 47),
        lineDs(pts(THIN_CYAN), "#00E5FF", 1, 46),
        lineDs(pts(THIN_GREEN), "#32CD32", 1, 45),
      ],
    },
    options: options(THIN_P, yAxis(THIN_P, [], [])),
    plugins: [framePlugin],
  };
}

function stochConfig(): any {
  return {
    type: "line",
    data: {
      datasets: [
        lineDs(pts(ST_BLUE_TOP), "#0000FF", 3, 60),
        lineDs(pts(ST_BLUE_LOW), "#0000FF", 3, 60),
        lineDs(pts(ST_BAND_UP), "#2E8B57", 1, 55),
        lineDs(pts(ST_BAND_LOW), "#2E8B57", 1, 55),
        lineDs(pts(ST_WHITE), "#FFFFFF", 1, 50, { borderDash: [3, 3] }),
        lineDs(pts(ST_YELLOW), "#FFD700", 4, 40),
        lineDs(pts(ST_MAGENTA), "#FF00FF", 3, 30),
        lineDs(pts(ST_GREEN), "#32CD32", 2, 20),
      ],
    },
    options: options(ST_P, yAxis(ST_P, ST_TICKS, ST_TICK_LABELS)),
    plugins: [framePlugin],
  };
}

function fisherConfig(): any {
  const barBase = { type: "bar", grouped: false, borderWidth: 0, barThickness: 3, inflateAmount: 0 };
  return {
    type: "bar",
    data: {
      datasets: [
        lineDs(pts([[-0.625, FI_BASE], [306.5, FI_BASE]]), "#800080", 2, 70),
        { ...barBase, data: FI_HIST_UP.map(([x, v]) => ({ x, y: [FI_BASE, v] })), backgroundColor: "#007A00", order: 60 },
        { ...barBase, data: FI_HIST_DOWN.map(([x, v]) => ({ x, y: [v, FI_BASE] })), backgroundColor: "#800080", order: 60 },
        lineDs(pts(FI_MAGENTA), "#FF00FF", 3, 40),
        lineDs(pts(FI_LINE), "#9ACD32", 3, 30),
      ],
    },
    options: options(FI_P, yAxis(FI_P, FI_TICKS, FI_TICKS.map((v) => v.toFixed(3))), xShown, X_AXIS_H),
    plugins: [framePlugin],
  };
}

const txt = (left: number, top: number, extra: any = {}): any => ({
  position: "absolute",
  left,
  top,
  color: "#ffffff",
  font: `9px ${FONT}`,
  lineHeight: "11px",
  whiteSpace: "nowrap",
  ...extra,
});

export default function App() {
  const c1 = useRef<HTMLCanvasElement>(null);
  const c2 = useRef<HTMLCanvasElement>(null);
  const c3 = useRef<HTMLCanvasElement>(null);
  const c4 = useRef<HTMLCanvasElement>(null);
  const c5 = useRef<HTMLCanvasElement>(null);

  useEffect(() => {
    document.body.style.margin = "0";
    document.body.style.overflow = "hidden";
    const charts: any[] = [];
    const cfgs = [mainConfig(), rsiConfig(), thinConfig(), stochConfig(), fisherConfig()];
    [c1, c2, c3, c4, c5].forEach((r, i) => {
      if (r.current) charts.push(new Chart(r.current, cfgs[i]));
    });
    return () => charts.forEach((c) => c.destroy());
  }, []);

  const cv: any = { position: "absolute", left: 0, top: 0, width: W, height: H };
  return (
    <div style={{ position: "absolute", left: 0, top: 0, width: W, height: H, background: "#000", overflow: "hidden" }}>
      <div style={{ position: "absolute", left: 2, top: 8, width: 0, height: 0, borderLeft: "3px solid transparent", borderRight: "3px solid transparent", borderTop: "4px solid #fff" }} />
      <div style={txt(13, 3)}>GOLD,H4</div>
      <div style={txt(-1, 566)}>RSI(5) 34.8814</div>
      <div style={txt(2, 716)}>stochRSI 57.1473 66.2504</div>
      <div style={txt(2, 803)}>Fisher_Yur4ik 0.56</div>
      <canvas ref={c1} width={W} height={H} style={cv} />
      <canvas ref={c2} width={W} height={H} style={cv} />
      <canvas ref={c3} width={W} height={H} style={cv} />
      <canvas ref={c4} width={W} height={H} style={cv} />
      <canvas ref={c5} width={W} height={H} style={cv} />
      <div style={txt(1230, 258, { background: "#fff", color: "#000", width: 41, height: 10, lineHeight: "10px", paddingLeft: 1, boxSizing: "border-box" })}>1128.16</div>
      <div style={{ position: "absolute", left: 1231, top: 700, width: 5, height: 10, border: "1px solid #E8A020", boxSizing: "border-box" }} />
      <div style={{ position: "absolute", left: 1231, top: 807, width: 5, height: 11, border: "1px solid #800080", boxSizing: "border-box" }} />
    </div>
  );
}
